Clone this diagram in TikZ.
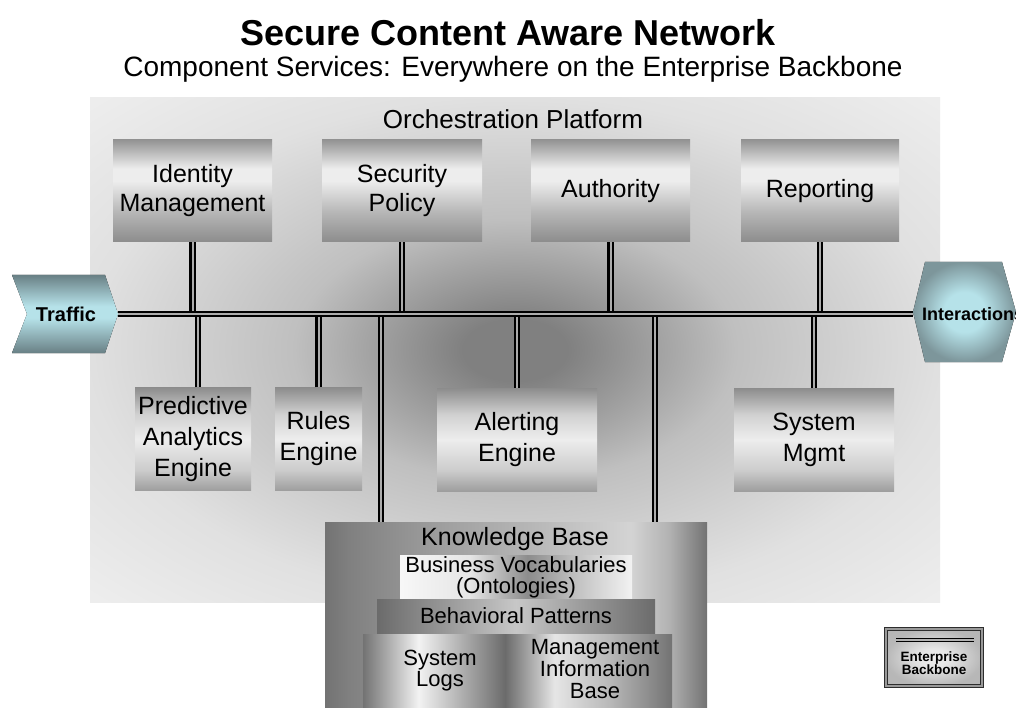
\documentclass[tikz,border=0pt]{standalone}
\usepackage{fontspec}
\setmainfont{Liberation Sans}
\usetikzlibrary{calc}
\definecolor{g42}{gray}{0.42}
\definecolor{g45}{gray}{0.45}
\definecolor{g50}{gray}{0.50}
\definecolor{g55}{gray}{0.55}
\definecolor{g58}{gray}{0.58}
\definecolor{g62}{gray}{0.62}
\definecolor{g70}{gray}{0.70}
\definecolor{g72}{gray}{0.72}
\definecolor{g75}{gray}{0.75}
\definecolor{g78}{gray}{0.78}
\definecolor{g80}{gray}{0.80}
\definecolor{g82}{gray}{0.82}
\definecolor{g83}{gray}{0.83}
\definecolor{g88}{gray}{0.88}
\definecolor{g90}{gray}{0.90}
\definecolor{g93}{gray}{0.93}
\definecolor{g95}{gray}{0.95}
\definecolor{g97}{gray}{0.97}
\definecolor{tdark}{RGB}{105,128,133}
\definecolor{tmid}{RGB}{125,150,155}
\definecolor{tlight}{RGB}{182,226,233}
% TikZ maps the middle 25bp..75bp of a shading onto the path; vertical runs top (25bp) to bottom (75bp) here (y flipped)
\pgfdeclareverticalshading{boxshT}{100bp}{color(0bp)=(g55); color(25bp)=(g55); color(40bp)=(g72); color(55bp)=(g93); color(61bp)=(g93); color(75bp)=(g58); color(100bp)=(g58)}
\pgfdeclareverticalshading{boxshB}{100bp}{color(0bp)=(g62); color(25bp)=(g62); color(35bp)=(g80); color(50bp)=(g93); color(62bp)=(g82); color(75bp)=(g55); color(100bp)=(g55)}
\pgfdeclareradialshading{platsh}{\pgfpoint{0bp}{0bp}}{color(0bp)=(g50); color(3bp)=(g50); color(13bp)=(g75); color(25bp)=(g88); color(35bp)=(g93); color(50bp)=(g93)}
\pgfdeclarehorizontalshading{kbsh}{100bp}{color(0bp)=(g45); color(25bp)=(g45); color(28bp)=(g50); color(40bp)=(g62); color(52.5bp)=(g72); color(65bp)=(g83); color(70bp)=(g70); color(75bp)=(g45); color(100bp)=(g45)}
\pgfdeclarehorizontalshading{bvsh}{100bp}{color(0bp)=(g97); color(25bp)=(g97); color(40bp)=(g90); color(52.5bp)=(g55); color(62.5bp)=(g75); color(75bp)=(g95); color(100bp)=(g95)}
\pgfdeclarehorizontalshading{bpsh}{100bp}{color(0bp)=(g42); color(25bp)=(g42); color(50bp)=(g78); color(75bp)=(g42); color(100bp)=(g42)}
\pgfdeclarehorizontalshading{blsh}{100bp}{color(0bp)=(g45); color(25bp)=(g45); color(34bp)=(g95); color(48bp)=(g42); color(56bp)=(g90); color(65bp)=(g72); color(75bp)=(g45); color(100bp)=(g45)}
\pgfdeclareverticalshading{trafsh}{100bp}{color(0bp)=(tdark); color(25bp)=(tdark); color(47.5bp)=(tlight); color(55bp)=(tlight); color(75bp)=(tdark); color(100bp)=(tdark)}
\pgfdeclareradialshading{intsh}{\pgfpoint{0bp}{0bp}}{color(0bp)=(tlight); color(10bp)=(tlight); color(25bp)=(tmid); color(50bp)=(tmid)}
\pgfdeclareradialshading{legsh}{\pgfpoint{0bp}{0bp}}{color(0bp)=(g93); color(8bp)=(g90); color(25bp)=(g72); color(50bp)=(g70)}
\begin{document}
\begin{tikzpicture}[x=1pt,y=-1pt,
  svcbox/.style={rectangle, shading=boxshT, inner sep=0pt, align=center,
    font=\fontsize{25}{29}\selectfont},
  lowbox/.style={svcbox, shading=boxshB, minimum height=103pt, font=\fontsize{25}{31}\selectfont},
  bb/.style={draw=black, line width=2.2pt, double=gray!65, double distance=2pt},
  kbtxt/.style={align=center, inner sep=0pt, font=\fontsize{22}{21}\selectfont}]
\useasboundingbox (0,0) rectangle (1016,708);
\fill[white] (0,0) rectangle (1016,708);

% platform
\node[rectangle, shading=platsh, minimum width=850pt, minimum height=504pt, inner sep=0pt] (plat) at (515,350) {};

% titles
\node[anchor=base, inner sep=0pt, font=\fontsize{36}{40}\selectfont\bfseries] (title) at (508,46) {Secure Content Aware Network};
\node[anchor=base, inner sep=0pt, font=\fontsize{28}{32}\selectfont] (sub) at (513,77) {Component Services: Everywhere on the Enterprise Backbone};
\node[anchor=base, inner sep=0pt, font=\fontsize{26}{30}\selectfont] (orch) at (513,129) {Orchestration Platform};

% top boxes
\node[svcbox, minimum width=159pt, minimum height=102pt] (idm) at (192.5,191) {Identity\\Management};
\node[svcbox, minimum width=160pt, minimum height=102pt] (sec) at (402,191) {Security\\Policy};
\node[svcbox, minimum width=159pt, minimum height=102pt] (auth) at (610.5,191) {Authority};
\node[svcbox, minimum width=158pt, minimum height=102pt] (rep) at (820,191) {Reporting};

% bottom boxes
\node[lowbox, minimum width=116pt] (pae) at (193,439) {Predictive\\Analytics\\Engine};
\node[lowbox, minimum width=87pt] (rul) at (318.5,439) {Rules\\Engine};
\node[lowbox, minimum width=160pt] (alt) at (517,439.5) {Alerting\\Engine};
\node[lowbox, minimum width=160pt] (sys) at (814,439.5) {System\\Mgmt};

% knowledge base
\node[rectangle, shading=kbsh, minimum width=382pt, minimum height=190pt, inner sep=0pt] (kb) at (516,617) {};
\node[rectangle, shading=bvsh, minimum width=232pt, minimum height=44pt, inner sep=0pt] (bv) at (516,577) {};
\node[rectangle, shading=bpsh, minimum width=278pt, minimum height=34pt, inner sep=0pt] (bp) at (516,616) {};
\node[rectangle, shading=blsh, minimum width=309pt, minimum height=78pt, inner sep=0pt] (bl) at (517.5,673) {};
\node[anchor=base, inner sep=0pt, font=\fontsize{25}{29}\selectfont] (kbt) at (515,545) {Knowledge Base};
\node[kbtxt] (bvt) at (bv.center) {Business Vocabularies\\(Ontologies)};
\node[kbtxt] (bpt) at (bp.center) {Behavioral Patterns};
\node[kbtxt] (slt) at (440,671) {System\\Logs};
\node[kbtxt, font=\fontsize{22}{22}\selectfont] (mib) at (595,669) {Management\\Information\\Base};

% traffic and interactions
\fill[shading=trafsh] (12,275) -- (105,275) -- (118,314) -- (105,353) -- (12,353) -- (27,314) -- cycle;
\node[font=\fontsize{20}{24}\selectfont\bfseries, inner sep=0pt] (traffic) at (66,314) {Traffic};
\coordinate (trafficTip) at (118,314);
\fill[shading=intsh] (925,262) -- (1002,262) -- (1016,312) -- (1002,362) -- (925,362) -- (913,312) -- cycle;
\node[anchor=west, font=\fontsize{18}{22}\selectfont\bfseries, inner sep=0pt] (inter) at (922,314) {Interactions};
\coordinate (interTip) at (913,314);

% connectors
\coordinate (paeC) at ([xshift=5pt]pae.north);
\coordinate (kbL) at ([xshift=56pt]kb.north west);
\coordinate (kbR) at ([xshift=-52pt]kb.north east);
\foreach \n in {idm,sec,auth,rep}{
  \draw[bb] (\n.south) -- (\n.south |- trafficTip);
}
\foreach \n in {paeC,rul.north,alt.north,sys.north,kbL,kbR}{
  \draw[bb] (\n) -- (\n |- trafficTip);
}
\draw[bb] (trafficTip) -- (interTip);

% legend
\node[rectangle, shading=legsh, draw=gray!35!black, line width=0.9pt, double=gray!80, double distance=1.6pt, minimum width=96pt, minimum height=57pt, inner sep=0pt] (leg) at (934,657.5) {};
\coordinate (lgA) at (896,640);
\coordinate (lgB) at (974,640);
\draw[draw=black, line width=1.3pt, double=gray!60, double distance=1.4pt] (lgA) -- (lgB);
\node[align=center, inner sep=0pt, font=\fontsize{13.5}{12}\selectfont\bfseries] (legt) at (934,663) {Enterprise\\Backbone};
\end{tikzpicture}
\end{document}
